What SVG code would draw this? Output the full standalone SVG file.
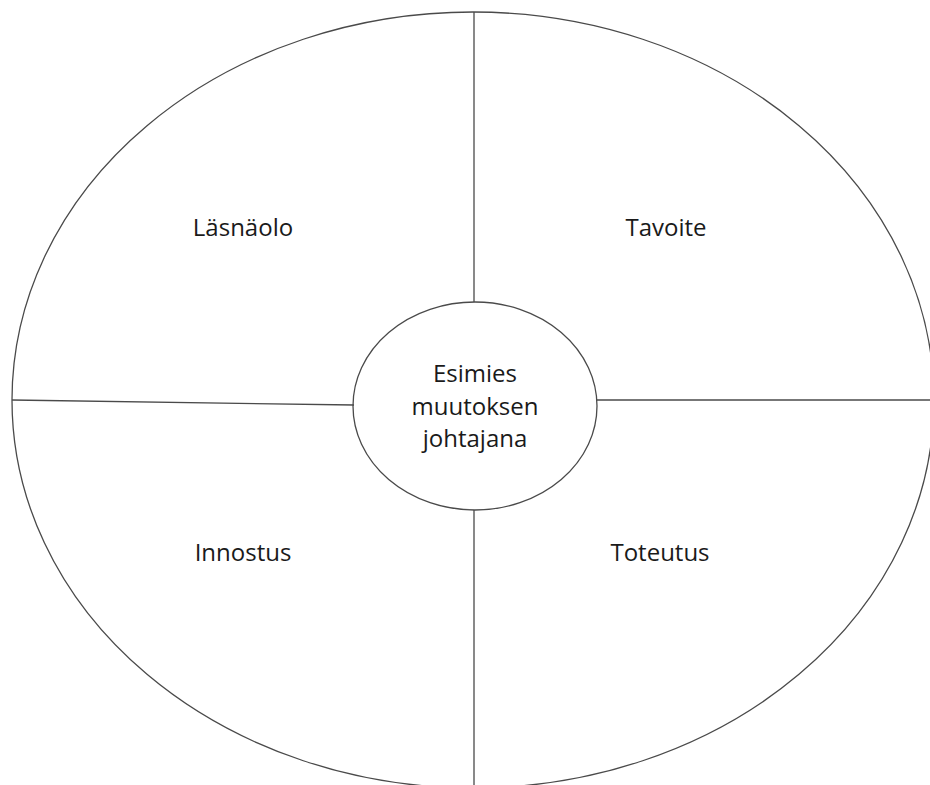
<svg xmlns="http://www.w3.org/2000/svg" width="930" height="785" viewBox="0 0 930 785">
  <style>
    .ring { fill: none; stroke: #4a4a4a; stroke-width: 1.3; }
    .div { stroke: #4a4a4a; stroke-width: 1.3; fill: none; }
    .lbl { font-family: "Open Sans", "Liberation Sans", sans-serif; font-size: 24px; fill: #1a1a1a; text-anchor: middle; }
  </style>
  <rect width="930" height="785" fill="#ffffff"/>
  <g id="outer">
    <ellipse class="ring" cx="473" cy="400" rx="461" ry="388"/>
  </g>
  <g id="connectors">
    <line class="div" x1="474" y1="12" x2="474" y2="302"/>
    <line class="div" x1="474" y1="510" x2="474" y2="785"/>
    <line class="div" x1="12" y1="400" x2="354" y2="405"/>
    <line class="div" x1="597" y1="400" x2="930" y2="400"/>
  </g>
  <g id="lasnaolo">
    <text class="lbl" x="243" y="236">Läsnäolo</text>
  </g>
  <g id="tavoite">
    <text class="lbl" x="666" y="236">Tavoite</text>
  </g>
  <g id="innostus">
    <text class="lbl" x="243" y="561">Innostus</text>
  </g>
  <g id="toteutus">
    <text class="lbl" x="660" y="561">Toteutus</text>
  </g>
  <g id="center">
    <ellipse class="ring" cx="475" cy="406" rx="122" ry="104"/>
    <text class="lbl" x="475" y="382">Esimies</text>
    <text class="lbl" x="475" y="415">muutoksen</text>
    <text class="lbl" x="475" y="447">johtajana</text>
  </g>
</svg>
